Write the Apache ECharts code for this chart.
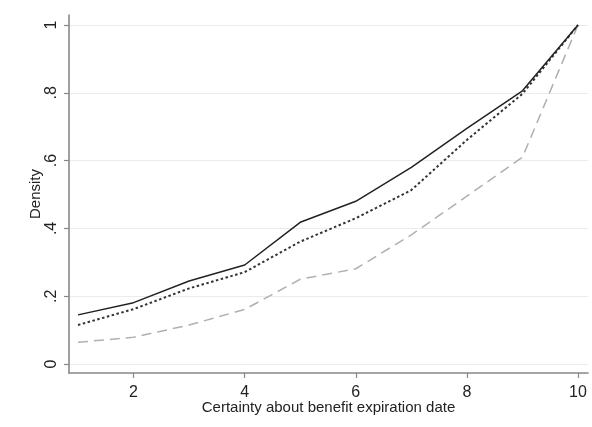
<!DOCTYPE html>
<html>
<head>
<meta charset="utf-8">
<script src="https://cdn.jsdelivr.net/npm/echarts@6/dist/echarts.min.js"></script>
<style>
html,body{margin:0;padding:0;background:#fff;}
#c{width:592px;height:427px;}
</style>
</head>
<body>
<div id="c"></div>
<script>
var xValues = [1, 2, 3, 4, 5, 6, 7, 8, 9, 10];
var solidSeries = [0.145, 0.181, 0.245, 0.292, 0.418, 0.480, 0.580, 0.695, 0.806, 1.0];
var dottedSeries = [0.115, 0.162, 0.223, 0.271, 0.361, 0.430, 0.513, 0.661, 0.797, 1.0];
var dashedSeries = [0.064, 0.079, 0.115, 0.161, 0.250, 0.281, 0.381, 0.495, 0.610, 1.0];
var xTicks = [2, 4, 6, 8, 10];
var yTicks = [0, 0.2, 0.4, 0.6, 0.8, 1];
var yTickLabels = ['0', '.2', '.4', '.6', '.8', '1'];

function pairs(ys) { return xValues.map(function (x, i) { return [x, ys[i]]; }); }

var font = 'Liberation Sans, Arial, sans-serif';
var axisColor = '#888';
var chart = echarts.init(document.getElementById('c'), null, {renderer: 'canvas'});
chart.setOption({
  animation: false,
  backgroundColor: '#ffffff',
  grid: [
    {left: 69, right: 4, top: 15, bottom: 54, containLabel: false},
    {left: 69, right: 4, top: 25, bottom: 63, containLabel: false}
  ],
  xAxis: [
    {
      type: 'value', gridIndex: 0, min: 0.838, max: 10.18,
      axisLine: {show: true, onZero: false, lineStyle: {color: axisColor, width: 1.6}},
      axisTick: {show: true, length: 5, customValues: xTicks, lineStyle: {color: axisColor, width: 1.2}},
      axisLabel: {customValues: xTicks, margin: 12, fontSize: 16, color: '#222', fontFamily: font},
      splitLine: {show: false},
      name: 'Certainty about benefit expiration date',
      nameLocation: 'middle', nameGap: 27, nameMoveOverlap: false,
      nameTextStyle: {fontSize: 15, color: '#222', fontFamily: font}
    },
    {
      type: 'value', gridIndex: 1, min: 0.838, max: 10.18, show: false
    }
  ],
  yAxis: [
    {
      type: 'value', gridIndex: 0, min: -0.0265, max: 1.0295,
      axisLine: {show: true, onZero: false, lineStyle: {color: axisColor, width: 1.6}},
      axisTick: {show: true, length: 5, customValues: yTicks, lineStyle: {color: axisColor, width: 1.2}},
      axisLabel: {
        customValues: yTicks, rotate: 90, margin: 9, fontSize: 16, color: '#222', fontFamily: font,
        formatter: function (v) {
          for (var i = 0; i < yTicks.length; i++) { if (Math.abs(yTicks[i] - v) < 1e-6) return yTickLabels[i]; }
          return '';
        }
      },
      splitLine: {show: false},
      name: 'Density', nameLocation: 'middle', nameGap: 26, nameRotate: 90, nameMoveOverlap: false,
      nameTextStyle: {fontSize: 15, color: '#222', fontFamily: font}
    },
    {
      type: 'value', gridIndex: 1, min: 0, max: 1, interval: 0.2,
      axisLine: {show: false}, axisTick: {show: false}, axisLabel: {show: false},
      splitLine: {show: true, lineStyle: {color: '#ebebeb', width: 1.2}}
    }
  ],
  series: [
    {
      type: 'line', xAxisIndex: 0, yAxisIndex: 0, data: pairs(dashedSeries),
      symbol: 'none', lineStyle: {color: '#b0b0b0', width: 1.5, type: [10, 6]}, z: 3
    },
    {
      type: 'line', xAxisIndex: 0, yAxisIndex: 0, data: pairs(dottedSeries),
      symbol: 'none', lineStyle: {color: '#333', width: 2, type: [2.5, 2.5]}, z: 4
    },
    {
      type: 'line', xAxisIndex: 0, yAxisIndex: 0, data: pairs(solidSeries),
      symbol: 'none', lineStyle: {color: '#222', width: 1.5}, z: 5
    }
  ]
});
</script>
</body>
</html>
